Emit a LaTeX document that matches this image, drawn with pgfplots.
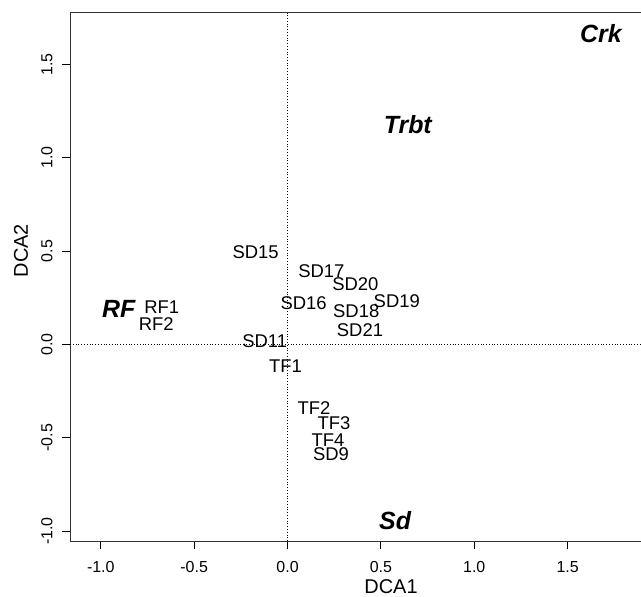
\documentclass[border=0pt]{standalone}
\usepackage{fontspec}
\setmainfont{Liberation Sans}
\usepackage{pgfplots}
\pgfplotsset{compat=1.18}
\usepackage{pgfplotstable}

% DCA site scores
\pgfplotstableread{
x      y      label
-0.171  0.491 SD15
 0.181  0.394 SD17
 0.363  0.321 SD20
 0.086  0.223 SD16
 0.585  0.232 SD19
 0.368  0.175 SD18
 0.388  0.077 SD21
-0.122  0.019 SD11
-0.011 -0.116 TF1
 0.142 -0.343 TF2
 0.249 -0.423 TF3
 0.217 -0.513 TF4
 0.233 -0.588 SD9
-0.674  0.201 RF1
-0.703  0.109 RF2
}\sites

% habitat group centroids
\pgfplotstableread{
x      y      label
-0.904  0.187 RF
 1.678  1.666 Crk
 0.644  1.175 Trbt
 0.576 -0.945 Sd
}\groups

\begin{document}
\begin{tikzpicture}
\begin{axis}[
  anchor=south west, at={(0bp,0bp)},
  scale only axis, width=571bp, height=528bp,
  xmin=-1.165, xmax=1.893, ymin=-1.054, ymax=1.775,
  axis lines=left, axis line style={-, line width=1bp, black!80},
  tick align=outside, major tick length=8bp,
  tick style={line width=0.8bp, black},
  xtick={-1,-0.5,0,0.5,1,1.5},
  ytick={-1,-0.5,0,0.5,1,1.5},
  /pgf/number format/assume math mode=true,
  /pgf/number format/.cd, fixed, fixed zerofill, precision=1, /pgfplots/.cd,
  ticklabel style={font=\fontsize{16}{18}\selectfont, inner sep=0pt},
  xticklabel style={anchor=center, yshift=-18bp},
  yticklabel style={rotate=90, anchor=center, yshift=15bp},
  xlabel={DCA1}, ylabel={DCA2},
  label style={font=\fontsize{20}{22}\selectfont, inner sep=0pt},
  xlabel style={at={(rel axis cs:0.5622,-0.0871)}, anchor=center},
  ylabel style={at={(rel axis cs:-0.0858,0.5502)}, anchor=center},
  clip=false,
]
  % top frame line
  \draw[line width=1bp, black!80] (rel axis cs:0,1) -- (rel axis cs:1,1);
  % reference lines through the origin
  \addplot[dotted, line width=0.8bp] coordinates {(0,-1.054) (0,1.775)};
  \addplot[dotted, line width=0.8bp] coordinates {(-1.165,0) (1.893,0)};
  % site labels
  \addplot[only marks, mark=none, nodes near coords, point meta=explicit symbolic,
    every node near coord/.style={anchor=center, inner sep=0pt,
      font=\fontsize{18.5}{20}\selectfont}]
    table[x=x, y=y, meta=label] {\sites};
  % group labels
  \addplot[only marks, mark=none, nodes near coords, point meta=explicit symbolic,
    every node near coord/.style={anchor=center, inner sep=0pt,
      font=\fontsize{25}{28}\selectfont\bfseries\itshape}]
    table[x=x, y=y, meta=label] {\groups};
\end{axis}
\pgfresetboundingbox
\path[use as bounding box] (-70bp,-56bp) rectangle (571bp,541bp);
\end{tikzpicture}
\end{document}
